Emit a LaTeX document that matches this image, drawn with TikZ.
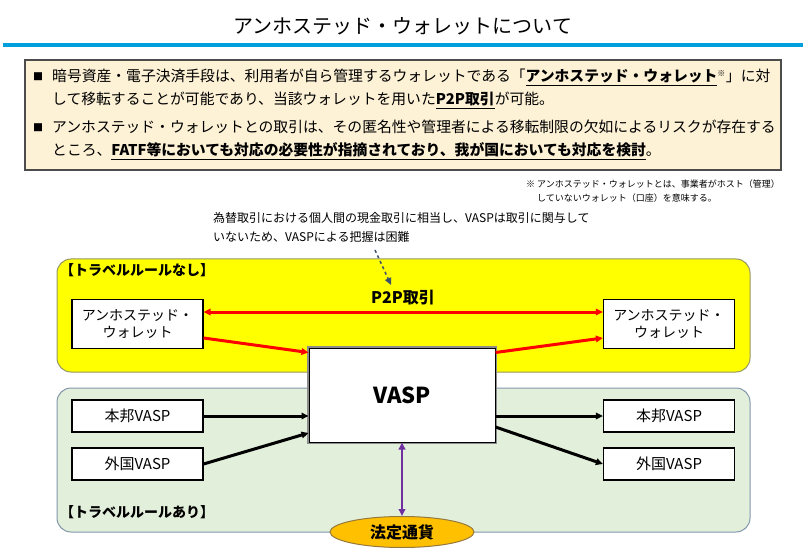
\documentclass[tikz,border=0pt]{standalone}
\usepackage{fontspec}
\setmainfont{Noto Sans CJK JP}
\usetikzlibrary{arrows.meta,shapes.geometric}
\definecolor{titleblue}{RGB}{0,160,220}
\definecolor{beige}{RGB}{253,241,214}
\definecolor{brightyellow}{RGB}{255,255,0}
\definecolor{yellowedge}{RGB}{150,150,100}
\definecolor{greenfill}{RGB}{226,239,218}
\definecolor{greenedge}{RGB}{130,150,170}
\definecolor{fiatfill}{RGB}{255,192,0}
\definecolor{fiatedge}{RGB}{150,120,60}
\definecolor{violet}{RGB}{112,48,160}
\definecolor{slate}{RGB}{60,80,105}
\newcommand{\fsz}[1]{\fontsize{#1}{#1}\selectfont}
\begin{document}
\begin{tikzpicture}[x=1pt, y=-1pt, every node/.style={inner sep=0pt},
    panel/.style = {draw, rounded corners=14pt, line width=1pt, minimum width=693pt},
    wallet/.style = {draw, fill=white, line width=1.2pt, minimum width=131pt, align=center, font=\fsz{14}},
    bank/.style = {wallet, minimum height=32pt, font=\fsz{15}},
    tip/.style = {-{Triangle[length=7pt,width=6.5pt]}},
    both/.style = {{Triangle[length=7pt,width=6.5pt]}-{Triangle[length=7pt,width=6.5pt]}},
    line/.style = {anchor=base west, font=\fsz{14.8}}]
    \useasboundingbox (0,0) rectangle (806,556);
    % title
    \node (title) at (403,26) {\fsz{20}アンホステッド・ウォレットについて};
    \draw[titleblue, line width=4pt] (3,45) -- (803,45);
    % summary box
    \node[draw=black!70, fill=beige, line width=1.5pt, minimum width=756pt, minimum height=110pt] (summary) at (403,115) {};
    \node[anchor=west, font=\fsz{10}] (b1) at (33,77) {■};
    \node[anchor=west, font=\fsz{10}] (b2) at (33,128) {■};
    \node[line] (l1) at (52,82) {暗号資産・電子決済手段は、利用者が自ら管理するウォレットである「\underline{\bfseries アンホステッド・ウォレット}\textsuperscript{\fsz{8}※}」に対};
    \node[line] (l2) at (52,105) {して移転することが可能であり、当該ウォレットを用いた\underline{\bfseries P2P取引}が可能。};
    \node[line] (l3) at (52,133) {アンホステッド・ウォレットとの取引は、その匿名性や管理者による移転制限の欠如によるリスクが存在する};
    \node[line] (l4) at (52,156) {ところ、\underline{\bfseries FATF等においても対応の必要性が指摘されており、我が国においても対応を検討}。};
    % footnote
    \node[anchor=west, font=\fsz{9}] (foot1) at (526,184) {※ アンホステッド・ウォレットとは、事業者がホスト（管理）};
    \node[anchor=west, font=\fsz{9}] (foot2) at (537,198) {していないウォレット（口座）を意味する。};
    % comment on P2P
    \node[anchor=west, font=\fsz{12}] (note1) at (213,218) {為替取引における個人間の現金取引に相当し、VASPは取引に関与して};
    \node[anchor=west, font=\fsz{12}] (note2) at (213,237) {いないため、VASPによる把握は困難};
    % panels
    \node[panel, fill=brightyellow, draw=yellowedge, minimum height=113pt] (norule) at (403.5,315.5) {};
    \node[panel, fill=greenfill, draw=greenedge, minimum height=144pt] (rule) at (403.5,460) {};
    \node[anchor=west, font=\fsz{14}\bfseries] (norulelab) at (60,270) {【トラベルルールなし】};
    \node[anchor=west, font=\fsz{14}\bfseries] (rulelab) at (60,512) {【トラベルルールあり】};
    % nodes
    \node[wallet, minimum height=49pt] (wl) at (137.5,324) {アンホステッド・\\[3pt]ウォレット};
    \node[wallet, minimum height=49pt] (wr) at (669,324) {アンホステッド・\\[3pt]ウォレット};
    \node[bank] (hl) at (137.5,416) {本邦VASP};
    \node[bank] (fl) at (137.5,464) {外国VASP};
    \node[bank] (hr) at (669,416) {本邦VASP};
    \node[bank] (fr) at (669,464) {外国VASP};
    \node[draw, fill=white, line width=1pt, minimum width=186pt, minimum height=94pt, font=\fsz{22}\bfseries,
          preaction={draw=black!45, line width=3.5pt}] (vasp) at (402,395) {VASP};
    \node[ellipse, draw=fiatedge, fill=fiatfill, line width=1pt, minimum width=144pt, minimum height=31pt, font=\fsz{16}\bfseries] (fiat) at (402,532) {法定通貨};
    \node[font=\fsz{16}\bfseries] (p2p) at (403,298) {P2P取引};
    % comment arrow
    \coordinate (notefrom) at (375,250);
    \coordinate (noteto) at (391,285);
    \draw[slate, line width=1.5pt, dashed, tip] (notefrom) -- (noteto);
    % P2P transfers
    \draw[red, line width=3pt, both] ([yshift=12pt]wl.east) -- ([yshift=12pt]wr.west);
    \draw[red, line width=3pt, tip] ([yshift=-14pt]wl.east) -- ([yshift=-5pt]vasp.north west);
    \draw[red, line width=3pt, tip] ([yshift=-5pt]vasp.north east) -- ([yshift=-14pt]wr.west);
    % transfers between VASPs
    \draw[line width=3pt, tip] (hl.east) -- (hl.east -| vasp.west);
    \draw[line width=3pt, tip] (fl.east) -- ([yshift=-38pt]vasp.west);
    \draw[line width=3pt, tip] (vasp.east |- hr.west) -- (hr.west);
    \draw[line width=3pt, tip] ([yshift=-32pt]vasp.east) -- (fr.west);
    \draw[violet, line width=2.5pt, both] (vasp.south) -- (fiat.north);
\end{tikzpicture}
\end{document}
